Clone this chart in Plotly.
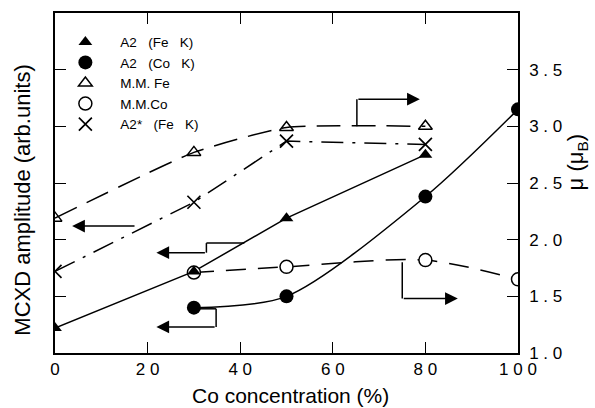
import plotly.graph_objects as go

# ---- data (x: Co concentration %, y: moment in mu_B on right axis scale) ----
a2_fe_x = [0, 30, 50, 80]
a2_fe_y = [1.22, 1.72, 2.19, 2.75]
a2_co_x = [30, 50, 80, 100]
a2_co_y = [1.40, 1.50, 2.38, 3.15]
mm_fe_x = [0, 30, 50, 80]
mm_fe_y = [2.19, 2.77, 2.99, 3.00]
mm_co_x = [30, 50, 80, 100]
mm_co_y = [1.71, 1.76, 1.82, 1.65]
a2s_fe_x = [0, 30, 50, 80]
a2s_fe_y = [1.72, 2.33, 2.87, 2.84]

NB3 = "\u00a0\u00a0\u00a0"
series_names = ["A2" + NB3 + "(Fe" + NB3 + "K)", "A2" + NB3 + "(Co" + NB3 + "K)",
                "M.M.\u00a0Fe", "M.M.Co", "A2*" + NB3 + "(Fe" + NB3 + "K)"]

x_tickvals = [0, 20, 40, 60, 80, 100]
x_ticktext = ["0", "2 0", "4 0", "6 0", "8 0", "1 0 0"]
y_tickvals = [1.0, 1.5, 2.0, 2.5, 3.0, 3.5]
y_ticktext = ["1 . 0", "1 . 5", "2 . 0", "2 . 5", "3 . 0", "3 . 5"]

# elbow arrows indicating which axis each series refers to (polyline, last point = tip)
arrow_paths = [
    [(65.2, 3.00), (65.2, 3.24), (78.8, 3.24)],      # M.M. Fe -> right axis
    [(75.0, 1.80), (75.0, 1.48), (87.0, 1.48)],      # M.M.Co -> right axis
    [(17.5, 2.12), (3.7, 2.12)],                     # A2* -> left axis
    [(40.9, 1.97), (32.7, 1.97), (32.7, 1.885), (21.9, 1.885)],  # A2 Fe -> left axis
    [(30.0, 1.39), (34.8, 1.39), (34.8, 1.23), (21.9, 1.23)],    # A2 Co -> left axis
]

FONT = "Liberation Sans, Arial, Helvetica, sans-serif"
BLACK = "black"

fig = go.Figure()

# lines (no legend)
fig.add_trace(go.Scatter(x=a2_fe_x, y=a2_fe_y, mode="lines", showlegend=False,
                         line=dict(color=BLACK, width=1.5)))
fig.add_trace(go.Scatter(x=a2_co_x, y=a2_co_y, mode="lines", showlegend=False,
                         line=dict(color=BLACK, width=1.5, shape="spline", smoothing=0.8)))
fig.add_trace(go.Scatter(x=mm_fe_x, y=mm_fe_y, mode="lines", showlegend=False,
                         line=dict(color=BLACK, width=1.5, dash="24px,11px", shape="spline", smoothing=0.5)))
fig.add_trace(go.Scatter(x=mm_co_x, y=mm_co_y, mode="lines", showlegend=False,
                         line=dict(color=BLACK, width=1.5, dash="20px,12px", shape="spline", smoothing=0.8)))
fig.add_trace(go.Scatter(x=a2s_fe_x, y=a2s_fe_y, mode="lines", showlegend=False,
                         line=dict(color=BLACK, width=1.5, dash="22px,9px,3px,9px")))

# markers (legend)
fig.add_trace(go.Scatter(x=mm_co_x, y=mm_co_y, mode="markers", name=series_names[3], legendrank=4,
                         marker=dict(symbol="circle", size=13, color="white",
                                     line=dict(width=1.5, color=BLACK))))
fig.add_trace(go.Scatter(x=a2_fe_x, y=a2_fe_y, mode="markers", name=series_names[0], legendrank=1,
                         marker=dict(symbol="triangle-up", size=12, color=BLACK)))
fig.add_trace(go.Scatter(x=a2_co_x, y=a2_co_y, mode="markers", name=series_names[1], legendrank=2,
                         marker=dict(symbol="circle", size=14, color=BLACK)))
fig.add_trace(go.Scatter(x=mm_fe_x, y=mm_fe_y, mode="markers", name=series_names[2], legendrank=3,
                         marker=dict(symbol="triangle-up-open", size=12, color=BLACK,
                                     line=dict(width=1.5, color=BLACK))))
fig.add_trace(go.Scatter(x=a2s_fe_x, y=a2s_fe_y, mode="markers", name=series_names[4], legendrank=5,
                         marker=dict(symbol="x-thin-open", size=13, color=BLACK,
                                     line=dict(width=1.7, color=BLACK))))

shapes = []
annotations = []
for path in arrow_paths:
    for (x0, y0), (x1, y1) in zip(path[:-2], path[1:-1]):
        shapes.append(dict(type="line", xref="x", yref="y", x0=x0, y0=y0, x1=x1, y1=y1,
                           line=dict(color=BLACK, width=1.5)))
    (tx, ty) = path[-1]
    (sx, sy) = path[-2]
    annotations.append(dict(x=tx, y=ty, ax=sx, ay=sy, xref="x", yref="y", axref="x", ayref="y",
                            text="", showarrow=True, arrowhead=2, arrowsize=1.7,
                            arrowwidth=1.5, arrowcolor=BLACK))

annotations += [
    dict(text="MCXD amplitude (arb.units)", textangle=-90, xref="paper", yref="paper",
         x=-0.072, y=0.45, xanchor="center", yanchor="middle", showarrow=False,
         font=dict(family=FONT, size=22, color=BLACK)),
    dict(text="μ (μ<sub>B</sub>)", textangle=-90, xref="paper", yref="paper",
         x=1.127, y=0.56, xanchor="center", yanchor="middle", showarrow=False,
         font=dict(family=FONT, size=22, color=BLACK)),
    dict(text="Co concentration (%)", xref="paper", yref="paper",
         x=0.508, y=-0.125, xanchor="center", yanchor="middle", showarrow=False,
         font=dict(family=FONT, size=21, color=BLACK)),
]

fig.update_layout(
    width=595, height=408,
    margin=dict(l=55, r=77, t=13, b=55),
    paper_bgcolor="white", plot_bgcolor="white",
    font=dict(family=FONT, color=BLACK),
    shapes=shapes, annotations=annotations,
    legend=dict(x=-0.01, y=0.96, xanchor="left", yanchor="top",
                font=dict(family=FONT, size=13.5, color=BLACK),
                bgcolor="rgba(0,0,0,0)", itemwidth=60),
    xaxis=dict(range=[0, 100], tickvals=x_tickvals, ticktext=x_ticktext,
               ticks="inside", ticklen=11, tickwidth=1.3, tickcolor=BLACK,
               showline=True, linecolor=BLACK, linewidth=1.5, mirror="ticks",
               showgrid=False, zeroline=False,
               tickfont=dict(family=FONT, size=17, color=BLACK)),
    yaxis=dict(range=[1.0, 4.0], tickvals=y_tickvals, ticktext=y_ticktext, side="right",
               ticks="inside", ticklen=11, tickwidth=1.3, tickcolor=BLACK,
               showline=True, linecolor=BLACK, linewidth=1.5, mirror="ticks",
               showgrid=False, zeroline=False, ticklabelstandoff=6,
               tickfont=dict(family=FONT, size=17, color=BLACK)),
)

fig.write_html("out.html", config={"displayModeBar": False},
               post_script="document.body.style.margin='0';")
